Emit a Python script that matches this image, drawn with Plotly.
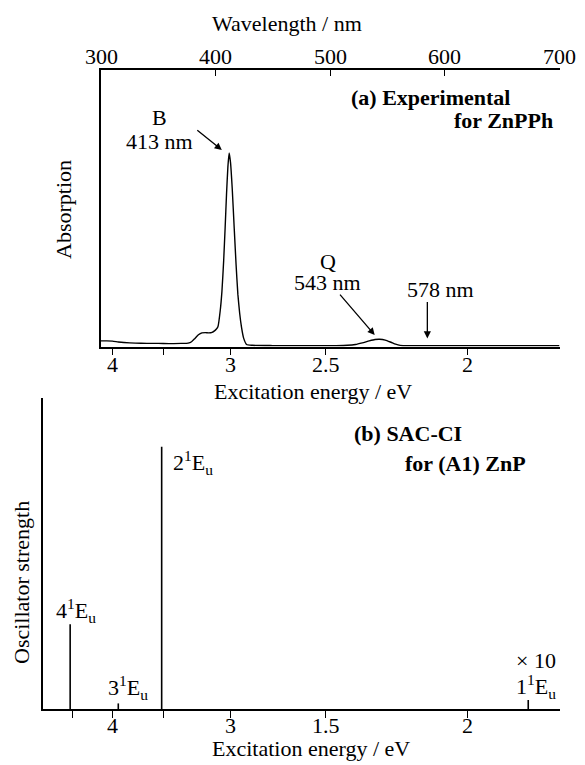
import numpy as np
import plotly.graph_objects as go

# ---------------- data ----------------
# (a) experimental absorption spectrum of ZnPPh (wavelength in nm, arbitrary absorbance)
wavelength_nm = [300, 305, 310, 315, 320, 330, 340, 350, 360, 370, 376, 379, 382, 385,
                 388, 391, 394, 397, 399, 400.5, 402, 404, 405.5, 407, 408.3, 409.5,
                 410.7, 411.8, 413, 414.5, 416.2, 417.8, 419.4, 421, 422.6, 424.5, 427,
                 432, 450, 480, 505, 515, 522, 528, 534, 539, 543, 548, 553, 557, 561,
                 570, 600, 650, 700]
absorption = [0.021, 0.021, 0.020, 0.017, 0.015, 0.013, 0.012, 0.012, 0.011, 0.012, 0.013,
              0.018, 0.030, 0.043, 0.050, 0.051, 0.050, 0.052, 0.057, 0.063, 0.072, 0.13,
              0.20, 0.31, 0.43, 0.55, 0.65, 0.70, 0.665, 0.57, 0.43, 0.30, 0.19, 0.12,
              0.07, 0.03, 0.008, 0.005, 0.004, 0.004, 0.004, 0.005, 0.008, 0.014, 0.021,
              0.026, 0.027, 0.024, 0.016, 0.009, 0.005, 0.004, 0.004, 0.004, 0.004]

# (b) SAC-CI oscillator strengths for ZnP (energy in eV, relative strength)
state_labels = ["4<sup>1</sup>E<sub>u</sub>", "3<sup>1</sup>E<sub>u</sub>",
                "2<sup>1</sup>E<sub>u</sub>", "1<sup>1</sup>E<sub>u</sub>"]
state_energy_eV = [4.54, 3.935, 3.513, 1.843]
osc_strength = [0.273, 0.018, 0.844, 0.029]

# axis ticks
wl_ticks = [300, 400, 500, 600, 700]
ev_ticks_top = [4, 3.5, 3, 2.5, 2]
ev_text_top = ["4", "", "3", "2.5", "2"]
ev_ticks_bot = [4.5, 4, 3.5, 3, 2.5, 2]
ev_text_bot = ["", "4", "", "3", "1.5", "2"]

HC = 1239.84  # eV*nm

# ---------------- layout helpers ----------------
OFF = 8                     # page body margin
W, H = 585 - OFF, 765 - OFF
def px(x):
    return (x - OFF) / W
def py(y):
    return 1 - (y - OFF) / H

FONT = "Liberation Serif"
FS = 22

fig = go.Figure()

# spectrum
fig.add_trace(go.Scatter(x=wavelength_nm, y=absorption, mode="lines",
                         line=dict(color="black", width=1.4, shape="spline", smoothing=0.5),
                         xaxis="x", yaxis="y", showlegend=False, hoverinfo="skip"))
# dummy trace so the top wavelength axis is drawn
fig.add_trace(go.Scatter(x=[300, 700], y=[None, None], mode="lines",
                         xaxis="x3", yaxis="y", showlegend=False, hoverinfo="skip"))

# sticks
sx, sy = [], []
for e, f in zip(state_energy_eV, osc_strength):
    lam = HC / e
    sx += [lam, lam, None]
    sy += [0, f, None]
fig.add_trace(go.Scatter(x=sx, y=sy, mode="lines", line=dict(color="black", width=1.6),
                         xaxis="x2", yaxis="y2", showlegend=False, hoverinfo="skip"))

x_top_dom = [px(101), px(559.5)]
x_bot_dom = [px(43), px(559.5)]
scale = (559.5 - 101) / 400.0
x_bot_min = 300 - (101 - 43) / scale

common_axis = dict(showgrid=False, zeroline=False, showline=True, linecolor="black",
                   linewidth=1.6, tickcolor="black", tickwidth=1.4, showticklabels=False)

fig.update_layout(
    width=W, height=H,
    margin=dict(l=0, r=0, t=0, b=0),
    paper_bgcolor="white", plot_bgcolor="white",
    xaxis=dict(domain=x_top_dom, range=[300, 700], anchor="y",
               tickmode="array", tickvals=[HC / e for e in ev_ticks_top],
               ticks="outside", ticklen=6, **common_axis),
    xaxis3=dict(domain=x_top_dom, range=[300, 700], anchor="y", overlaying="x", side="top",
                tickmode="array", tickvals=wl_ticks,
                ticks="inside", ticklen=6, **common_axis),
    yaxis=dict(domain=[py(346.7), py(70)], range=[0, 1], anchor="x", ticks="", **common_axis),
    xaxis2=dict(domain=x_bot_dom, range=[x_bot_min, 700], anchor="y2",
                tickmode="array", tickvals=[HC / e for e in ev_ticks_bot],
                ticks="outside", ticklen=7, **common_axis),
    yaxis2=dict(domain=[py(709), py(398.3)], range=[0, 1], anchor="x2", ticks="", **common_axis),
)

ann = []
def text(t, x, y, xanchor="center", bold=False, angle=0, xref="paper"):
    if bold:
        t = "<b>" + t + "</b>"
    ann.append(dict(text=t, x=(px(x) if xref == "paper" else x), y=py(y),
                    xref=xref, yref="paper",
                    xanchor=xanchor, yanchor="middle", showarrow=False, textangle=angle,
                    font=dict(family=FONT, size=FS, color="black")))

# tick labels
for t in wl_ticks:
    text(str(t), t, 56, xref="x3")
for e, s in zip(ev_ticks_top, ev_text_top):
    if s:
        text(s, HC / e, 365, xref="x")
for e, s in zip(ev_ticks_bot, ev_text_bot):
    if s:
        text(s, HC / e, 725, xref="x2")

# axis titles
text("Wavelength / nm", 287, 24)
text("Absorption", 63, 210, angle=-90)
text("Excitation energy / eV", 313, 391)
text("Oscillator strength", 21, 583, angle=-90)
text("Excitation energy / eV", 311, 748)

# panel titles
text("(a) Experimental", 512, 97, xanchor="right", bold=True)
text("for ZnPPh", 555, 120, xanchor="right", bold=True)
text("(b) SAC-CI", 352, 433, xanchor="left", bold=True)
text("for (A1) ZnP", 403, 463, xanchor="left", bold=True)

# peak labels
text("B", 159, 118)
text("413 nm", 159, 142)
text("Q", 328, 262)
text("543 nm", 327, 282)
text("578 nm", 440, 290)

# state labels
text(state_labels[0], 54, 610, xanchor="left")
text(state_labels[1], 106, 687, xanchor="left")
text(state_labels[2], 171, 462, xanchor="left")
text("× 10", 514, 660, xanchor="left")
text(state_labels[3], 514, 686, xanchor="left")

# arrows (tip in data coordinates)
def arrow(x, y, ax, ay):
    ann.append(dict(text="", x=x, y=y, xref="x", yref="y", ax=ax, ay=ay,
                    axref="pixel", ayref="pixel", showarrow=True, arrowhead=2,
                    arrowsize=1.1, arrowwidth=1.3, arrowcolor="black", standoff=0))

arrow(405.4, 0.711, -26, -21)
arrow(538.8, 0.042, -36, -42)
arrow(584.7, 0.030, 0, -38)

fig.update_layout(annotations=ann)
fig.write_html("out.html")
